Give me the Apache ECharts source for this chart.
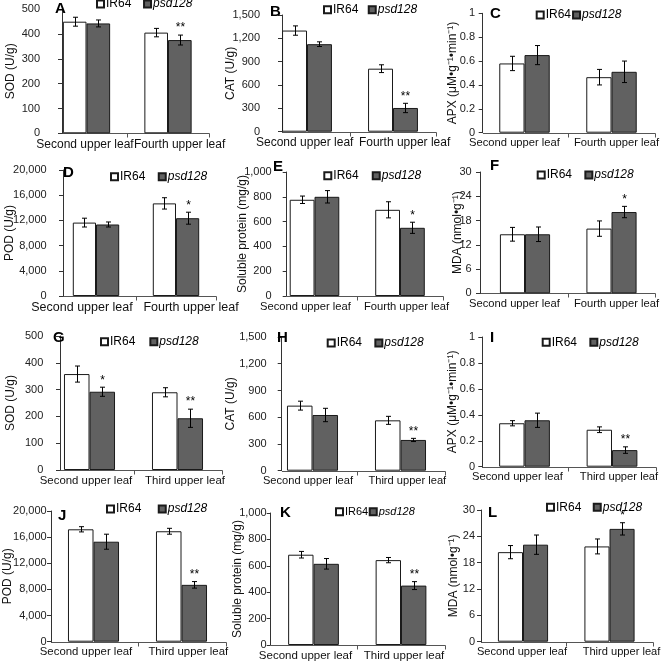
<!DOCTYPE html>
<html><head><meta charset="utf-8">
<script src="https://cdn.jsdelivr.net/npm/echarts@6/dist/echarts.min.js"></script>
<style>html,body{margin:0;padding:0;background:#fff}#c{width:661px;height:661px}</style>
</head><body><div id="c"></div>
<script>
// ---------- data ----------
const catsFourth = ['Second upper leaf', 'Fourth upper leaf'];
const catsThird = ['Second upper leaf', 'Third upper leaf'];
const seriesNames = ['IR64', 'psd128'];
const panelLetters = ['A','B','C','D','E','F','G','H','I','J','K','L'];
const yAxisNames = ['SOD (U/g)', 'CAT (U/g)', 'APX (μM•g⁻¹•min⁻¹)', 'POD (U/g)', 'Soluble protein (mg/g)', 'MDA (nmol•g⁻¹)',
                    'SOD (U/g)', 'CAT (U/g)', 'APX (μM•g⁻¹•min⁻¹)', 'POD (U/g)', 'Soluble protein (mg/g)', 'MDA (nmol•g⁻¹)'];
const yMax = [500, 1500, 1, 20000, 1000, 30, 500, 1500, 1, 20000, 1000, 30];
const yInterval = [100, 300, 0.2, 4000, 200, 6, 100, 300, 0.2, 4000, 200, 6];

const ir64A = [450, 406], ir64ErrA = [18, 17], psdA = [443, 376], psdErrA = [14, 20], sigA = ['', '**'];
const ir64B = [1300, 810], ir64ErrB = [60, 50], psdB = [1125, 305], psdErrB = [30, 60], sigB = ['', '**'];
const ir64C = [0.58, 0.465], ir64ErrC = [0.06, 0.065], psdC = [0.65, 0.51], psdErrC = [0.08, 0.09], sigC = ['', ''];
const ir64D = [11650, 14700], ir64ErrD = [700, 900], psdD = [11350, 12350], psdErrD = [400, 950], sigD = ['', '*'];
const ir64E = [776, 695], ir64ErrE = [30, 65], psdE = [800, 550], psdErrE = [50, 45], sigE = ['', '*'];
const ir64F = [14.6, 16.0], ir64ErrF = [1.7, 1.9], psdF = [14.6, 20.1], psdErrF = [1.8, 1.4], sigF = ['', '*'];
const ir64G = [358, 290], ir64ErrG = [30, 17], psdG = [292, 193], psdErrG = [17, 34], sigG = ['*', '**'];
const ir64H = [730, 565], ir64ErrH = [50, 45], psdH = [625, 345], psdErrH = [75, 18], sigH = ['', '**'];
const ir64I = [0.335, 0.285], ir64ErrI = [0.02, 0.022], psdI = [0.358, 0.128], psdErrI = [0.055, 0.025], sigI = ['', '**'];
const ir64J = [17200, 16900], ir64ErrJ = [400, 450], psdJ = [15300, 8700], psdErrJ = [1150, 500], sigJ = ['', '**'];
const ir64K = [684, 643], ir64ErrK = [25, 20], psdK = [615, 450], psdErrK = [40, 30], sigK = ['', '**'];
const ir64L = [20.4, 21.7], ir64ErrL = [1.5, 1.7], psdL = [22.1, 25.7], psdErrL = [2.2, 1.4], sigL = ['', '*'];

const panels = [
  {cats: catsFourth, a: ir64A, ae: ir64ErrA, b: psdA, be: psdErrA, sig: sigA},
  {cats: catsFourth, a: ir64B, ae: ir64ErrB, b: psdB, be: psdErrB, sig: sigB},
  {cats: catsFourth, a: ir64C, ae: ir64ErrC, b: psdC, be: psdErrC, sig: sigC},
  {cats: catsFourth, a: ir64D, ae: ir64ErrD, b: psdD, be: psdErrD, sig: sigD},
  {cats: catsFourth, a: ir64E, ae: ir64ErrE, b: psdE, be: psdErrE, sig: sigE},
  {cats: catsFourth, a: ir64F, ae: ir64ErrF, b: psdF, be: psdErrF, sig: sigF},
  {cats: catsThird, a: ir64G, ae: ir64ErrG, b: psdG, be: psdErrG, sig: sigG},
  {cats: catsThird, a: ir64H, ae: ir64ErrH, b: psdH, be: psdErrH, sig: sigH},
  {cats: catsThird, a: ir64I, ae: ir64ErrI, b: psdI, be: psdErrI, sig: sigI},
  {cats: catsThird, a: ir64J, ae: ir64ErrJ, b: psdJ, be: psdErrJ, sig: sigJ},
  {cats: catsThird, a: ir64K, ae: ir64ErrK, b: psdK, be: psdErrK, sig: sigK},
  {cats: catsThird, a: ir64L, ae: ir64ErrL, b: psdL, be: psdErrL, sig: sigL}
];

// ---------- layout (pixels) ----------
const layouts = [
  {l: 45.75, w: 163, t: 9.3, b: 133.3, ax: 62, lm: 22, ng: 45, lx: 96, ly: 5, lg: 11.7, lf: 12, tx: 55, ty: 1, xs: [-1.5, 11.6], xf: 12},
  {l: 264, w: 172, t: 15, b: 131.7, ax: 282, lm: 22, ng: 45, lx: 323, ly: 10.7, lg: 9.4, lf: 12, tx: 270, ty: 4, xs: [-2.3, 11.6], xf: 12},
  {l: 481, w: 174, t: 13.3, b: 132.7, ax: 482.7, lm: 7.7, ng: 24, lx: 535.7, ly: 16, lg: 1, lf: 12, tx: 490, ty: 6, xs: [-10, 5], xf: 11.2},
  {l: 56, w: 160, t: 170, b: 296, ax: 63, lm: 16.3, ng: 47, lx: 110, ly: 177.7, lg: 12.4, lf: 12, tx: 63, ty: 165, xs: [-14, 15], xf: 12.5},
  {l: 271.75, w: 171, t: 172, b: 296, ax: 286.7, lm: 15, ng: 38, lx: 323.3, ly: 176.7, lg: 13.1, lf: 12, tx: 273, ty: 159, xs: [-9, 6.5], xf: 11.2},
  {l: 481.75, w: 173, t: 172, b: 293.3, ax: 480, lm: 8.3, ng: 16, lx: 536.7, ly: 176, lg: 12.3, lf: 12, tx: 490, ty: 158, xs: [-10.5, 5], xf: 11.2},
  {l: 45.5, w: 176, t: 336, b: 470, ax: 60, lm: 16.7, ng: 43, lx: 100, ly: 342.7, lg: 14, lf: 12, tx: 53, ty: 330, xs: [-3.5, 7.5], xf: 11.4},
  {l: 268.5, w: 176, t: 337, b: 470.7, ax: 281.7, lm: 15, ng: 45, lx: 326.7, ly: 344, lg: 12.3, lf: 12, tx: 277, ty: 330, xs: [-4.5, 6.8], xf: 11.1},
  {l: 480.75, w: 175, t: 337, b: 466.7, ax: 482.3, lm: 7.3, ng: 24, lx: 541.7, ly: 343.3, lg: 12.3, lf: 12, tx: 490, ty: 330, xs: [-7, 7], xf: 11.2},
  {l: 49.5, w: 176, t: 511, b: 641.7, ax: 51, lm: 4.3, ng: 37, lx: 106, ly: 510, lg: 16.4, lf: 12, tx: 58, ty: 508, xs: [-7.5, 6.8], xf: 11.4},
  {l: 269.75, w: 175, t: 513, b: 645, ax: 270.7, lm: 4, ng: 27, lx: 335, ly: 513.3, lg: 0.5, lf: 11, tx: 280, ty: 505, xs: [-8, 3], xf: 11.5},
  {l: 479.75, w: 173, t: 510, b: 641.7, ax: 481, lm: 6, ng: 21, lx: 546, ly: 508.3, lg: 11.4, lf: 12, tx: 488, ty: 505, xs: [-1, 12], xf: 11.1}
];

const FONT = 'Liberation Sans, Arial, sans-serif';
const GAP = 0.42;
const IR_COLOR = '#ffffff', PSD_COLOR = '#616161', EDGE = '#1a1a1a';

function errRender(values, errs, sig, side) {
  return function (params, api) {
    const i = params.dataIndex;
    const v = values[i], e = errs[i];
    const c = api.coord([i, v]);
    const band = api.size([1, 0])[0];
    const bw = band * (1 - GAP) / 2;
    const x = Math.round(c[0] + side * bw / 2) + 0.5;
    const top = api.coord([i, v + e])[1];
    const bot = api.coord([i, v - e])[1];
    const st = {stroke: '#000', lineWidth: 1};
    const ch = [
      {type: 'line', shape: {x1: x, y1: top, x2: x, y2: bot}, style: st},
      {type: 'line', shape: {x1: x - 2.5, y1: top, x2: x + 2.5, y2: top}, style: st},
      {type: 'line', shape: {x1: x - 2.5, y1: bot, x2: x + 2.5, y2: bot}, style: st}
    ];
    if (sig && sig[i]) {
      ch.push({type: 'text', style: {text: sig[i], x: x, y: top - 1, align: 'center', verticalAlign: 'bottom',
        fontSize: 12, fontFamily: FONT, fill: '#000'}});
    }
    return {type: 'group', children: ch};
  };
}

const option = {
  backgroundColor: '#fff',
  animation: false,
  textStyle: {fontFamily: FONT},
  title: [], legend: [], grid: [], xAxis: [], yAxis: [], series: [], graphic: []
};

panels.forEach((p, k) => {
  const L = layouts[k];
  option.grid.push({left: L.l, top: L.t, width: L.w, height: L.b - L.t, outerBoundsMode: 'none', containLabel: false});
  option.title.push({text: panelLetters[k], left: L.tx, top: L.ty, padding: 0,
    textStyle: {fontSize: 15, fontWeight: 'bold', color: '#000', fontFamily: FONT}});
  option.legend.push({
    data: seriesNames, left: L.lx, top: L.ly - 7, padding: 0, itemWidth: 7, itemHeight: 7, itemGap: L.lg,
    icon: 'rect', selectedMode: false,
    formatter: n => n === 'psd128' ? '{i|psd128}' : n,
    textStyle: {fontSize: L.lf, color: '#000', fontFamily: FONT, padding: [0, 0, 0, -3],
      rich: {i: {fontStyle: 'italic', fontSize: L.lf, fontFamily: FONT, color: '#000'}}}
  });
  const rich = {};
  L.xs.forEach((s, j) => {
    rich['c' + j] = {fontSize: L.xf, color: '#111', fontFamily: FONT,
      padding: [0, Math.max(0, -2 * s), 0, Math.max(0, 2 * s)]};
  });
  option.xAxis.push({
    type: 'category', gridIndex: k, data: p.cats,
    axisLine: {show: false}, axisTick: {show: false},
    axisLabel: {interval: 0, margin: 5, fontSize: L.xf, color: '#111', fontFamily: FONT,
      formatter: (val, idx) => '{c' + idx + '|' + val + '}', rich: rich},
    splitLine: {show: false}
  });
  option.yAxis.push({
    type: 'value', gridIndex: k, min: 0, max: yMax[k], interval: yInterval[k],
    offset: L.l - L.ax,
    name: yAxisNames[k], nameLocation: 'middle', nameRotate: 90, nameGap: L.ng, nameMoveOverlap: false,
    nameTextStyle: {fontSize: 12, color: '#111', fontFamily: FONT},
    axisLine: {show: true, lineStyle: {color: '#333', width: 1}},
    axisTick: {show: true, length: 4, lineStyle: {color: '#333'}},
    axisLabel: {margin: L.lm, fontSize: 11, color: '#222', fontFamily: FONT,
      formatter: v => Number(v.toFixed(3)).toLocaleString('en-US')},
    splitLine: {show: false}
  });
  option.series.push({
    type: 'bar', name: 'IR64', xAxisIndex: k, yAxisIndex: k, data: p.a,
    barGap: '0%', barCategoryGap: (GAP * 100) + '%',
    itemStyle: {color: IR_COLOR, borderColor: EDGE, borderWidth: 1}
  });
  option.series.push({
    type: 'bar', name: 'psd128', xAxisIndex: k, yAxisIndex: k, data: p.b,
    barGap: '0%', barCategoryGap: (GAP * 100) + '%',
    itemStyle: {color: PSD_COLOR, borderColor: EDGE, borderWidth: 1}
  });
  option.series.push({
    type: 'custom', name: 'errIR' + k, xAxisIndex: k, yAxisIndex: k, z: 5,
    data: p.a.map((v, i) => [i, v]), encode: {x: 0, y: 1},
    renderItem: errRender(p.a, p.ae, null, -1)
  });
  option.series.push({
    type: 'custom', name: 'errPSD' + k, xAxisIndex: k, yAxisIndex: k, z: 5,
    data: p.b.map((v, i) => [i, v]), encode: {x: 0, y: 1},
    renderItem: errRender(p.b, p.be, p.sig, 1)
  });
  // x axis line from the y axis to the plot end, with ticks at category boundaries
  const y0 = Math.round(L.b) + 0.5;
  const xm = Math.round(L.l + L.w / 2) + 0.5, xe = Math.round(L.l + L.w) + 0.5;
  const ls = {stroke: '#555', lineWidth: 1};
  option.graphic.push({type: 'group', children: [
    {type: 'line', shape: {x1: Math.round(L.ax), y1: y0, x2: xe, y2: y0}, style: ls},
    {type: 'line', shape: {x1: xm, y1: y0, x2: xm, y2: y0 + 4}, style: ls},
    {type: 'line', shape: {x1: xe, y1: y0, x2: xe, y2: y0 + 4}, style: ls}
  ]});
});

const chart = echarts.init(document.getElementById('c'), null, {renderer: 'canvas'});
chart.setOption(option);
</script>
</body></html>
